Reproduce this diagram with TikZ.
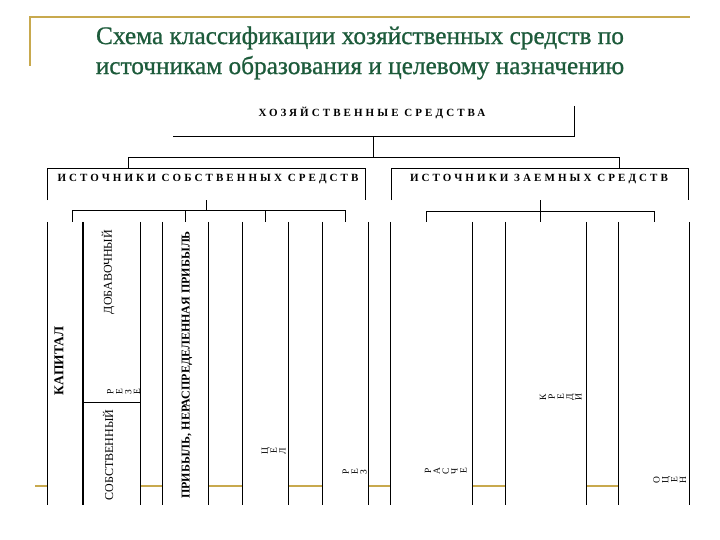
\documentclass[tikz,border=0pt]{standalone}
\usepackage{fontspec}
\setmainfont{Liberation Serif}
\newfontfamily\spacedfont[LetterSpace=28]{Liberation Serif}
\newfontfamily\titlefont[FakeBold=0.8]{Liberation Serif}
\definecolor{titlegreen}{HTML}{1D5B3B}
\definecolor{goldline}{HTML}{C8A94E}
\tikzset{
  ln/.style={black, line width=1pt},
  gold/.style={goldline, line width=2pt},
  hdr/.style={font=\spacedfont\bfseries\fontsize{11}{12}\selectfont, inner sep=0pt},
  frame/.style={inner sep=0pt, minimum width=#1, minimum height=31pt},
  col/.style={inner sep=0pt, fill=white, minimum width=#1, minimum height=283pt},
  vbold/.style={rotate=90, inner sep=0pt, font=\bfseries\fontsize{12}{12}\selectfont},
  vreg/.style={rotate=90, inner sep=0pt, font=\fontsize{12}{12}\selectfont},
  vsmall/.style={inner sep=0pt, font=\fontsize{9.5}{8.8}\selectfont},
}
\newcommand{\stackrot}[1]{\rotatebox{90}{\begin{tabular}{@{}c@{}}#1\end{tabular}}}
\begin{document}
\begin{tikzpicture}[x=1pt,y=-1pt]
\useasboundingbox[fill=white] (0,0) rectangle (720,540);
% decorative frame
\draw[gold] (30,66) -- (30,17) -- (690,17);
\node[text=titlegreen, align=center, font=\titlefont\fontsize{25.3}{30}\selectfont, inner sep=0pt] (title) at (360,53)
  {Схема классификации хозяйственных средств по\\источникам образования и целевому назначению};
% gold base line (under the columns)
\draw[gold, line width=2.5pt] (35,486) -- (689,486);

% top box
\node[inner sep=0pt, minimum width=401pt, minimum height=30pt] (hsbox) at (373.5,121) {};
\node[hdr] (hs) at (372,113) {ХОЗЯЙСТВЕННЫЕ СРЕДСТВА};
\draw[ln] (hsbox.north east) -- (hsbox.south east) -- (hsbox.south west);

% group boxes
\node[frame=317pt] (ownbox) at (206.5,184.5) {};
\node[frame=296pt] (loanbox) at (540,184.5) {};
\node[hdr] (own) at (208,179) {ИСТОЧНИКИ СОБСТВЕННЫХ СРЕДСТВ};
\node[hdr] (loan) at (539,179) {ИСТОЧНИКИ ЗАЕМНЫХ СРЕДСТВ};
\draw[ln] (ownbox.south west) -- (ownbox.north west) -- (ownbox.north east) -- (ownbox.south east);
\draw[ln] (loanbox.south west) -- (loanbox.north west) -- (loanbox.north east) -- (loanbox.south east);

% bus from top box to group boxes
\coordinate (busy) at (0,158);
\coordinate (ownin) at (128,169);
\coordinate (loanin) at (619,169);
\draw[ln] (hsbox.south) -- (hsbox.south |- busy);
\draw[ln] (ownin) -- (ownin |- busy) -- (loanin |- busy) -- (loanin);

% columns
\node[col=35pt] (c1) at (65.5,363.5) {};
\node[col=57pt] (c2) at (111.5,363.5) {};
\node[col=45pt] (c3) at (185.5,363.5) {};
\node[col=45pt] (c4) at (265.5,363.5) {};
\node[col=45pt] (c5) at (345.5,363.5) {};
\node[col=81pt] (c6) at (431.5,363.5) {};
\node[col=80pt] (c7) at (546,363.5) {};
\node[col=70pt] (c8) at (654,363.5) {};
\foreach \c in {c1,c2,c3,c4,c5,c6,c7,c8}{
  \draw[ln] (\c.north west) -- (\c.south west);
  \draw[ln] (\c.north east) -- (\c.south east);
}
\coordinate (div) at (0,402);
\draw[ln] (c2.west |- div) -- (c2.east |- div);

% left sub-bus
\coordinate (lbus) at (0,211);
\coordinate (t1) at (72,222);
\draw[ln] (ownbox.south) -- (ownbox.south |- lbus);
\draw[ln] (t1) -- (t1 |- lbus) -- (c5.north |- lbus) -- (c5.north);
\draw[ln] (c3.north) -- (c3.north |- lbus);
\draw[ln] (c4.north) -- (c4.north |- lbus);

% right sub-bus
\coordinate (rbus) at (0,212);
\coordinate (t6) at (426,222);
\coordinate (t7) at (540,222);
\draw[ln] (loanbox.south) -- (t7);
\draw[ln] (t6) -- (t6 |- rbus) -- (c8.north |- rbus) -- (c8.north);

% column texts
\node[vbold, font=\bfseries\fontsize{13.5}{14}\selectfont] (kap) at (59,361) {КАПИТАЛ};
\node[vreg] (dob) at (108,272) {ДОБАВОЧНЫЙ};
\node[vreg] (sob) at (108,455) {СОБСТВЕННЫЙ};
\node[vsmall] (rez1) at (125,392) {\stackrot{Р\\Е\\З\\Е}};
\node[vbold] (prib) at (187,365) {ПРИБЫЛЬ, НЕРАСПРЕДЕЛЕННАЯ ПРИБЫЛЬ};
\node[vsmall] (cel) at (275,451) {\stackrot{Ц\\Е\\Л}};
\node[vsmall] (rez2) at (356,472) {\stackrot{Р\\Е\\З}};
\node[vsmall] (ras) at (447,471) {\stackrot{Р\\А\\С\\Ч\\Е}};
\node[vsmall] (kred) at (562,397) {\stackrot{К\\Р\\Е\\Д\\И}};
\node[vsmall] (ocen) at (671,480) {\stackrot{О\\Ц\\Е\\Н}};
\end{tikzpicture}
\end{document}
